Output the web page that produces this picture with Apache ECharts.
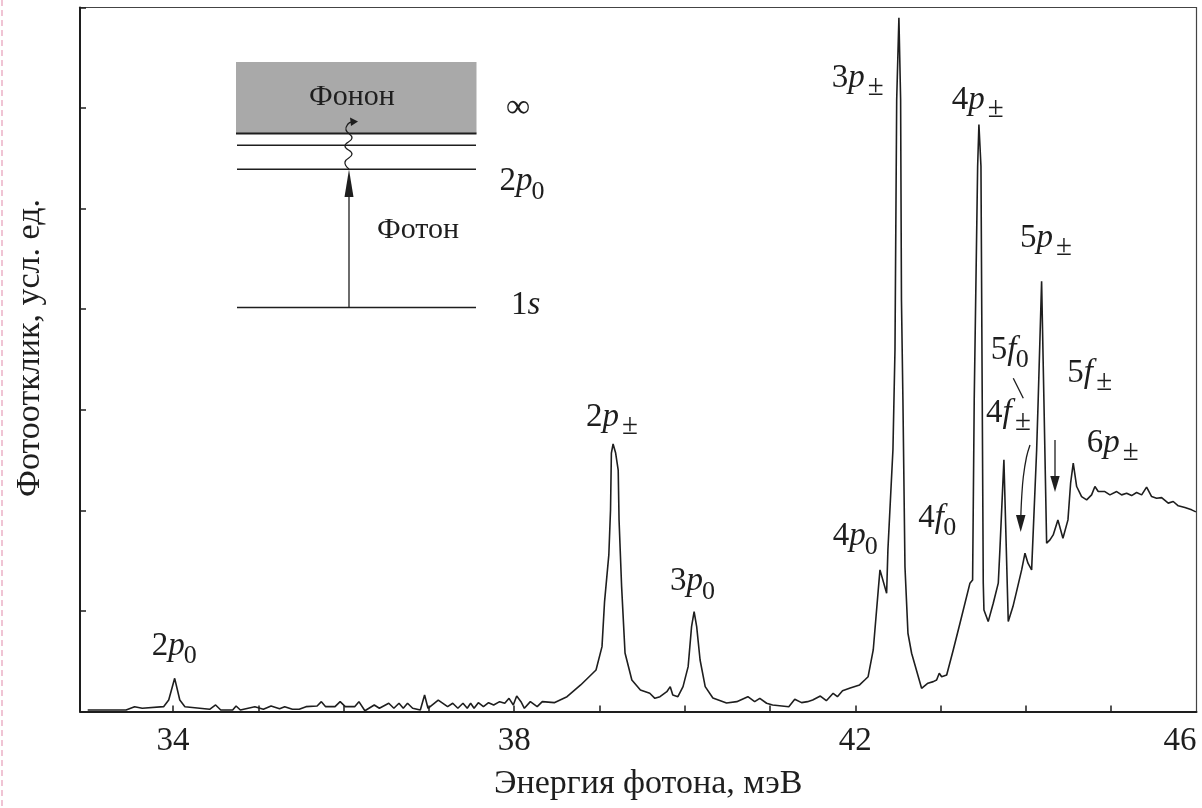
<!DOCTYPE html>
<html>
<head>
<meta charset="utf-8">
<script src="https://cdn.jsdelivr.net/npm/echarts@6/dist/echarts.min.js"></script>
<style>
html,body{margin:0;padding:0;background:#fff;}
#chart{width:1202px;height:808px;}
</style>
</head>
<body>
<div id="chart"></div>
<script>
// Photon energy (meV)
const energy = [
33.00,33.45,33.55,33.64,33.89,33.95,34.02,34.08,34.14,34.43,34.50,34.56,34.70,34.74,34.79,34.96,
35.06,35.15,35.25,35.31,35.40,35.48,35.56,35.69,35.74,35.79,35.90,35.96,36.02,36.13,36.18,36.25,
36.36,36.42,36.53,36.59,36.65,36.70,36.75,36.81,36.90,36.95,36.99,37.11,37.22,37.28,37.34,37.40,
37.45,37.49,37.53,37.58,37.64,37.70,37.76,37.83,37.89,37.94,37.99,38.03,38.08,38.12,38.19,38.27,
38.33,38.47,38.62,38.78,38.96,39.03,39.06,39.11,39.13,39.14,39.16,39.19,39.22,39.23,39.26,39.30,
39.38,39.48,39.59,39.65,39.71,39.79,39.83,39.86,39.92,39.98,40.04,40.08,40.11,40.14,40.18,40.24,
40.33,40.49,40.61,40.74,40.82,40.88,40.96,41.03,41.22,41.29,41.37,41.44,41.50,41.59,41.66,41.74,
41.79,41.85,41.94,42.05,42.11,42.15,42.21,42.269,42.289,42.367,42.382,42.441,42.465,42.485,42.511,
42.531,42.541,42.558,42.582,42.617,42.660,42.777,42.851,42.914,42.953,42.984,43.012,43.071,43.148,
43.227,43.344,43.375,43.394,43.434,43.449,43.473,43.488,43.500,43.508,43.558,43.617,43.676,43.695,
43.742,43.793,43.848,43.895,43.950,43.989,44.024,44.067,44.126,44.144,44.184,44.211,44.243,44.282,
44.320,44.375,44.434,44.493,44.524,44.555,44.595,44.653,44.712,44.770,44.809,44.848,44.926,44.985,
45.064,45.122,45.181,45.239,45.298,45.357,45.415,45.474,45.532,45.591,45.669,45.727,45.786,45.864,
45.943,45.993
];
// Photoresponse (arb. units)
const response = [
0.015,0.015,0.048,0.032,0.048,0.114,0.330,0.114,0.048,0.022,0.065,0.015,0.015,0.055,0.015,0.048,
0.022,0.055,0.028,0.048,0.022,0.022,0.048,0.055,0.098,0.048,0.048,0.098,0.048,0.048,0.098,0.008,
0.065,0.032,0.082,0.032,0.082,0.032,0.082,0.032,0.015,0.164,0.032,0.114,0.048,0.082,0.032,0.082,
0.032,0.082,0.032,0.088,0.048,0.088,0.065,0.098,0.082,0.131,0.065,0.154,0.098,0.032,0.098,0.048,
0.098,0.088,0.147,0.264,0.413,0.645,1.093,1.557,2.005,2.570,2.660,2.570,2.400,1.905,1.242,0.582,
0.313,0.214,0.181,0.131,0.147,0.197,0.247,0.164,0.147,0.247,0.446,0.844,0.993,0.844,0.512,0.247,
0.134,0.085,0.098,0.147,0.098,0.131,0.082,0.065,0.048,0.121,0.088,0.098,0.114,0.154,0.107,0.181,
0.147,0.207,0.234,0.264,0.313,0.346,0.612,1.209,1.408,1.176,1.607,2.602,3.597,6.085,6.898,
6.085,4.090,3.100,1.440,0.778,0.579,0.231,0.281,0.297,0.313,0.380,0.346,0.363,0.612,
0.878,1.276,1.308,3.100,5.420,5.836,5.420,3.100,1.276,1.010,0.894,1.077,1.276,1.607,
2.502,0.894,1.043,1.209,1.408,1.574,1.475,1.408,2.602,3.100,4.277,3.100,1.674,1.706,
1.756,1.905,1.723,1.905,2.270,2.470,2.237,2.137,2.104,2.154,2.237,2.187,2.187,2.154,
2.187,2.154,2.171,2.147,2.177,2.154,2.231,2.137,2.121,2.127,2.072,2.088,2.045,2.028,
2.005,1.985
];
const xTickValues = [34,35,36,37,38,39,40,41,42,43,44,45];
const xLabelValues = [34,38,42,46];
const xTitle = 'Энергия фотона, мэВ';
const yTitle = 'Фотоотклик, усл. ед.';

const F = 'Liberation Serif';
const INK = '#1e1e1e';

function t(x, y, text, fs, opts) {
  opts = opts || {};
  return {
    type: 'text', x: x, y: y, z: 20, rotation: opts.rotation || 0,
    style: {
      text: text, fontSize: fs, fontFamily: F,
      fontStyle: opts.italic ? 'italic' : 'normal',
      fill: INK,
      align: opts.align || 'left', textAlign: opts.align || 'left',
      verticalAlign: 'middle', textVerticalAlign: 'middle'
    }
  };
}
// level label: number + italic letter + subscript, positioned by left x and baseline
function lab(x, base, num, letter, sub) {
  const fs = 33;
  const ss = sub === '±' ? 29 : 26;
  const w = letter === 'f' ? 25 : (letter === 's' ? 29 : 32);
  const dx = w + (sub === '±' ? 4 : 0);
  const items = [
    t(x, base - 0.3 * fs, num, fs),
    t(x + 16.5, base - 0.3 * fs, letter, fs, {italic: true})
  ];
  if (sub) items.push(t(x + dx, base + 8 - 0.3 * ss, sub, ss));
  return {type: 'group', children: items};
}
function ln(x1, y1, x2, y2, w) {
  return {type: 'line', z: 20, shape: {x1: x1, y1: y1, x2: x2, y2: y2},
          style: {stroke: INK, lineWidth: w || 1.5}};
}
function tri(pts) {
  return {type: 'polygon', z: 20, shape: {points: pts}, style: {fill: INK}};
}

const graphics = [
  // faint scan border on the left
  {type: 'line', z: 1, shape: {x1: 2, y1: 0, x2: 2, y2: 808},
   style: {stroke: '#f0c4d4', lineWidth: 2, lineDash: [6, 4]}},
  // y axis title
  t(30, 348, yTitle, 34, {align: 'center', rotation: Math.PI / 2}),
  // inset: energy level diagram
  {type: 'rect', z: 15, shape: {x: 236, y: 62, width: 240.5, height: 71.5},
   style: {fill: '#a9a9a9'}},
  ln(236, 133.5, 476.5, 133.5, 2.2),
  ln(237, 145.3, 476, 145.3, 1.5),
  ln(237, 169.3, 476, 169.3, 1.5),
  ln(237, 307.5, 476, 307.5, 1.5),
  ln(349, 307.5, 349, 192, 1.3),
  tri([[349, 169.5], [344.5, 197], [353.5, 197]]),
  {type: 'polyline', z: 21, shape: {smooth: 0.5, points: [[349, 169], [345, 162], [352, 154], [345, 146], [352, 138], [346, 130], [348, 124], [352, 122]]},
   style: {stroke: INK, lineWidth: 1.3, fill: null}},
  tri([[358, 121.5], [350, 117.5], [351, 126]]),
  t(352, 97, 'Фонон', 30, {align: 'center'}),
  t(418, 230, 'Фотон', 30, {align: 'center'}),
  t(518, 108, '∞', 34, {align: 'center'}),
  lab(499.4, 191.7, '2', 'p', '0'),
  lab(511, 315, '1', 's', ''),
  // peak labels
  lab(151.7, 656, '2', 'p', '0'),
  lab(586, 427, '2', 'p', '±'),
  lab(670, 591.7, '3', 'p', '0'),
  lab(832.7, 546.7, '4', 'p', '0'),
  lab(831.7, 88.3, '3', 'p', '±'),
  lab(951.7, 110, '4', 'p', '±'),
  lab(1020, 248.3, '5', 'p', '±'),
  lab(918.3, 528.3, '4', 'f', '0'),
  lab(990.7, 360, '5', 'f', '0'),
  lab(986, 423.3, '4', 'f', '±'),
  lab(1067.3, 383.3, '5', 'f', '±'),
  lab(1086.7, 453.3, '6', 'p', '±'),
  // pointer lines / arrows
  ln(1013.3, 378.3, 1023.3, 398.3, 1.3),
  {type: 'polyline', z: 20, shape: {smooth: 0.4, points: [[1030, 445], [1026.5, 457], [1023.3, 477], [1021.7, 497], [1020.8, 517]]},
   style: {stroke: INK, lineWidth: 1.3, fill: null}},
  tri([[1020.7, 532], [1016, 515], [1025.5, 515]]),
  ln(1055, 440, 1055, 478, 1.3),
  tri([[1055, 492], [1050.3, 476], [1059.7, 476]])
];

const chart = echarts.init(document.getElementById('chart'), null, {renderer: 'canvas'});
chart.setOption({
  animation: false,
  backgroundColor: '#ffffff',
  grid: {left: 80, right: 5.5, top: 7.5, bottom: 96.5, show: true,
         containLabel: false, outerBoundsMode: 'none',
         borderColor: '#444', borderWidth: 1.2, backgroundColor: 'transparent'},
  xAxis: {
    type: 'value', min: 32.91, max: 46,
    axisLine: {show: true, onZero: false, lineStyle: {color: INK, width: 2}},
    axisTick: {show: true, inside: true, length: 6, customValues: xTickValues,
               lineStyle: {color: INK, width: 1.5}},
    axisLabel: {customValues: xLabelValues, fontSize: 33, fontFamily: F, color: INK, margin: 13,
                alignMaxLabel: 'right'},
    splitLine: {show: false},
    name: xTitle, nameLocation: 'middle', nameGap: 56,
    nameTextStyle: {fontSize: 34, fontFamily: F, color: INK, padding: [0, 0, 0, 20]}
  },
  yAxis: {
    type: 'value', min: 0, max: 7, interval: 1,
    axisLine: {show: true, lineStyle: {color: INK, width: 2}},
    axisTick: {show: true, inside: true, length: 6, lineStyle: {color: INK, width: 1.5}},
    axisLabel: {show: false},
    splitLine: {show: false}
  },
  series: [{
    type: 'line',
    data: energy.map((e, i) => [e, response[i]]),
    showSymbol: false, symbol: 'none',
    lineStyle: {color: INK, width: 1.6},
    z: 5
  }],
  graphic: graphics
});
</script>
</body>
</html>
